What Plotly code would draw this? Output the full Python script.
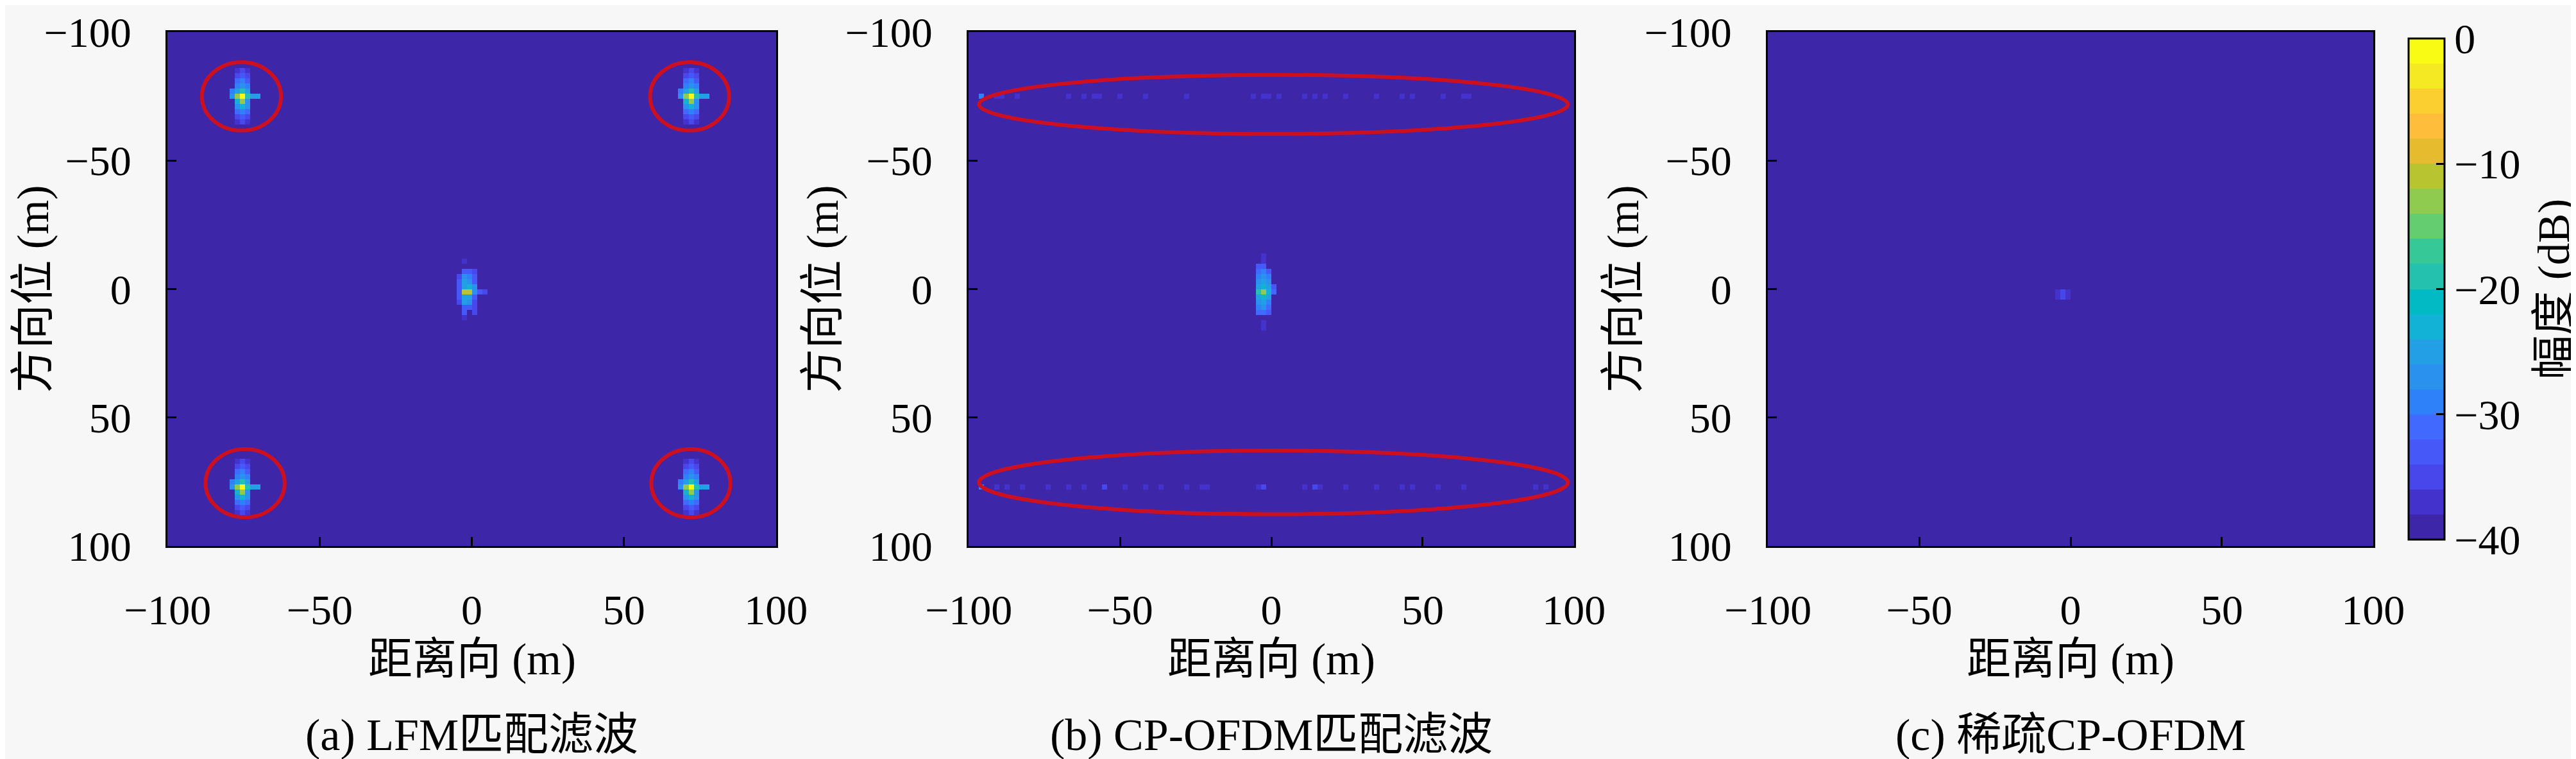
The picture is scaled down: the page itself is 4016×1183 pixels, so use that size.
import numpy as np
import plotly.graph_objects as go
from plotly.subplots import make_subplots

# ---------------- data ----------------
FLOOR_DB = -40                 # background level (dB)
N_RANGE, N_AZ = 118, 100       # image cells: range (x) by azimuth (y)

TICKS = [-100, -50, 0, 50, 100]
TICK_TEXT = ['\u2212100', '\u221250', '0', '50', '100']
CBAR_TICKS = [0, -10, -20, -30, -40]
CBAR_TEXT = ['0', '\u221210', '\u221220', '\u221230', '\u221240']

# (a) LFM matched filter: four corner targets + one centre target
lfm_corner_x = [-76, 72, -76, 72]
lfm_corner_y = [-74, -74, 76, 76]
lfm_corner_psf = [          # rows dy=-5..5, cols dx=-2..3
    [-40, -37, -36, -37, -40, -40],
    [-40, -35, -34, -36, -40, -40],
    [-40, -32, -30, -33, -40, -40],
    [-40, -30, -28, -30, -40, -40],
    [-30, -26, -20, -26, -40, -40],
    [-28, -14, 0, -20, -26, -26],
    [-40, -24, -14, -28, -40, -40],
    [-40, -28, -24, -28, -40, -40],
    [-40, -32, -30, -32, -40, -40],
    [-40, -35, -33, -35, -40, -40],
    [-40, -37, -36, -37, -40, -40],
]
lfm_center_x, lfm_center_y = -2, 1
lfm_center_psf = [          # rows dy=-6..5, cols dx=-1..4
    [-40, -37, -40, -40, -40, -40],
    [-40, -40, -40, -40, -40, -40],
    [-40, -34, -34, -36, -40, -40],
    [-35, -28, -30, -34, -40, -40],
    [-34, -26, -28, -34, -40, -40],
    [-34, -26, -24, -28, -40, -40],
    [-33, -12, -11, -28, -34, -36],
    [-34, -26, -26, -33, -40, -40],
    [-35, -26, -28, -36, -40, -40],
    [-40, -34, -34, -36, -40, -40],
    [-40, -34, -40, -36, -40, -40],
    [-40, -37, -40, -40, -40, -40],
]
lfm_ring_x = [-75.7, 71.6, -74.5, 72.0]
lfm_ring_y = [-75.0, -75.0, 75.6, 75.6]
lfm_ring_rx, lfm_ring_ry = 13.0, 13.3

# (b) CP-OFDM matched filter: centre target + sidelobe rows
ofdm_center_x, ofdm_center_y = -2, 1
ofdm_center_psf = [         # rows dy=-7..7, cols dx=-1..2
    [-40, -37, -40, -40],
    [-40, -37, -40, -40],
    [-34, -33, -40, -40],
    [-32, -30, -34, -40],
    [-30, -28, -30, -40],
    [-28, -26, -28, -40],
    [-26, -24, -26, -34],
    [-20, -14, -24, -32],
    [-26, -24, -26, -40],
    [-28, -26, -30, -40],
    [-30, -28, -32, -40],
    [-32, -32, -34, -40],
    [-40, -40, -40, -40],
    [-40, -37, -40, -40],
    [-40, -37, -40, -40],
]
ofdm_top_y = -74
ofdm_top_x = [-95.2, -91.1, -88.5, -84.4, -66.8, -61.4, -58.7, -56.0, -49.3,
              -41.2, -27.6, -6.0, -3.3, -0.6, 2.0, 11.5, 14.2, 17.0, 25.0,
              34.5, 44.0, 46.7, 56.0, 63.0, 64.5]
ofdm_top_db = [-30, -37, -37, -38, -37, -37, -37, -37, -37,
               -38, -38, -37, -37, -37, -37, -37, -37, -38, -38,
               -38, -37, -38, -38, -37, -38]
ofdm_bot_y = 76
ofdm_bot_x = [-95.2, -91.1, -87.1, -83.0, -73.6, -66.8, -61.4, -54.7, -47.9,
              -41.2, -37.1, -27.6, -23.6, -20.9, -4.7, -2.0, 11.5, 14.2, 15.6,
              25.0, 34.5, 42.6, 46.7, 54.8, 63.0, 87.2, 91.3]
ofdm_bot_db = [-30, -37, -37, -37, -37, -37, -37, -36, -37,
               -37, -38, -37, -37, -38, -37, -36, -37, -36, -37,
               -37, -37, -37, -38, -37, -38, -37, -37]
ofdm_ell_x = [0.7, 0.7]
ofdm_ell_y = [-71.9, 75.3]
ofdm_ell_rx = [97.3, 97.3]
ofdm_ell_ry = [11.5, 12.4]

# (c) sparse CP-OFDM: one tiny residual at the centre
sparse_x, sparse_y = -2, 0
sparse_psf = [              # rows dy=0..1, cols dx=-1..1
    [-38, -36, -37],
    [-37, -36, -38],
]

# parula colormap sampled into 20 bands (2 dB each)
PARULA20 = ['#3e26a8', '#4332cb', '#4747eb', '#4758f8', '#4269fe', '#2f81fa',
            '#2b91ef', '#23a0e5', '#12b1d6', '#02bac3', '#24c1ae', '#37c897',
            '#64cd6f', '#8fcb4e', '#b9c431', '#e6bb2d', '#febe3c', '#fccf30',
            '#f5e924', '#f9fb15']

FONT = "'Liberation Serif', 'Noto Sans CJK SC', serif"
W, H = 4016, 1183


def cell_grid():
    sx = 200.0 / N_RANGE
    sy = 200.0 / N_AZ
    xs = np.linspace(-100 + sx / 2, 100 - sx / 2, N_RANGE)
    ys = np.linspace(-100 + sy / 2, 100 - sy / 2, N_AZ)
    return xs, ys, sx, sy


X_CELLS, Y_CELLS, SX, SY = cell_grid()


def put(z, x, y, rows, dx0, dy0):
    """ stamp a block of dB values centred on the target at (x, y)"""
    ix = int(round((x - X_CELLS[0]) / SX))
    iy = int(round((y - Y_CELLS[0]) / SY))
    for r, row in enumerate(rows):
        for c, v in enumerate(row):
            j, i = iy + dy0 + r, ix + dx0 + c
            if 0 <= j < N_AZ and 0 <= i < N_RANGE:
                z[j, i] = max(z[j, i], v)


def image_a():
    z = np.full((N_AZ, N_RANGE), float(FLOOR_DB))
    for x, y in zip(lfm_corner_x, lfm_corner_y):
        put(z, x, y, lfm_corner_psf, -2, -5)
    put(z, lfm_center_x, lfm_center_y, lfm_center_psf, -1, -6)
    return z


def image_b():
    z = np.full((N_AZ, N_RANGE), float(FLOOR_DB))
    put(z, ofdm_center_x, ofdm_center_y, ofdm_center_psf, -1, -7)
    for x, v in zip(ofdm_top_x, ofdm_top_db):
        put(z, x, ofdm_top_y, [[v]], 0, 0)
    for x, v in zip(ofdm_bot_x, ofdm_bot_db):
        put(z, x, ofdm_bot_y, [[v]], 0, 0)
    return z


def image_c():
    z = np.full((N_AZ, N_RANGE), float(FLOOR_DB))
    put(z, sparse_x, sparse_y, sparse_psf, -1, 0)
    return z


def px_x(p):
    return p / W


def px_y(p):
    return 1 - p / H


colorscale = []
for k, c in enumerate(PARULA20):
    colorscale.append([k / 20, c])
    colorscale.append([(k + 1) / 20, c])

fig = make_subplots(rows=1, cols=3)
for col, z in enumerate([image_a(), image_b(), image_c()], start=1):
    fig.add_trace(go.Heatmap(x=X_CELLS, y=Y_CELLS, z=z, coloraxis='coloraxis',
                             zsmooth=False, hoverinfo='skip'), row=1, col=col)

# plot areas (pixels) measured on the reference
panels_px = [(253, 1202), (1502, 2446), (2748, 3692)]
top_px, bottom_px = 42, 843
axis_common = dict(showline=True, linewidth=3, linecolor='black', mirror=True,
                   ticks='inside', ticklen=14, tickwidth=3, tickcolor='black',
                   tickvals=TICKS, ticktext=TICK_TEXT, showgrid=False, zeroline=False,
                   ticklabeloverflow='allow',
                   tickfont=dict(family=FONT, size=66, color='black'))
for i, (l, r) in enumerate(panels_px):
    sfx = '' if i == 0 else str(i + 1)
    fig.layout['xaxis' + sfx].update(domain=[px_x(l), px_x(r)], range=[-100.05, 100.05],
                                     ticklabelstandoff=40, **axis_common)
    fig.layout['yaxis' + sfx].update(domain=[px_y(bottom_px), px_y(top_px)],
                                     range=[100.05, -100.05],
                                     ticklabelstandoff=40, **axis_common)

fig.update_layout(
    width=W, height=H,
    margin=dict(l=0, r=0, t=0, b=0, autoexpand=False),
    paper_bgcolor='#f7f7f7', plot_bgcolor='#3e26a8',
    font=dict(family=FONT, size=69, color='black'),
    showlegend=False,
    coloraxis=dict(
        colorscale=colorscale, cmin=-40, cmax=0,
        colorbar=dict(x=px_x(3737), xanchor='left', y=px_y(top_px), yanchor='top',
                      len=(bottom_px - top_px) / H, lenmode='fraction', thickness=56,
                      outlinewidth=3, outlinecolor='black',
                      ticks='inside', ticklen=14, tickwidth=3, tickcolor='black',
                      tickvals=CBAR_TICKS, ticktext=CBAR_TEXT,
                      ticklabeloverflow='allow',
                      tickfont=dict(family=FONT, size=66, color='black'))),
)

# red rings marking the targets / sidelobe rows
ring = dict(type='circle', line=dict(color='#cc1020', width=6), fillcolor='rgba(0,0,0,0)')
for x, y in zip(lfm_ring_x, lfm_ring_y):
    fig.add_shape(xref='x', yref='y', x0=x - lfm_ring_rx, x1=x + lfm_ring_rx,
                  y0=y - lfm_ring_ry, y1=y + lfm_ring_ry, **ring)
for x, y, rx, ry in zip(ofdm_ell_x, ofdm_ell_y, ofdm_ell_rx, ofdm_ell_ry):
    fig.add_shape(xref='x2', yref='y2', x0=x - rx, x1=x + rx, y0=y - ry, y1=y + ry, **ring)

# axis titles and captions
captions = ['(a) LFM匹配滤波', '(b) CP-OFDM匹配滤波', '(c) 稀疏CP-OFDM']
ytitle_px = [43, 1274, 2522]
mid_y = px_y((top_px + bottom_px) / 2)
for (l, r), cap, yx in zip(panels_px, captions, ytitle_px):
    cx = px_x((l + r) / 2)
    fig.add_annotation(text='距离向 (m)', x=cx, y=px_y(1020), xref='paper', yref='paper',
                       showarrow=False, xanchor='center', yanchor='middle')
    fig.add_annotation(text=cap, x=cx, y=px_y(1137), xref='paper', yref='paper',
                       showarrow=False, xanchor='center', yanchor='middle',
                       font=dict(size=70))
    fig.add_annotation(text='方向位 (m)', x=px_x(yx), y=mid_y, xref='paper', yref='paper',
                       textangle=-90, showarrow=False, xanchor='center', yanchor='middle')
fig.add_annotation(text='幅度 (dB)', x=px_x(3973), y=mid_y, xref='paper', yref='paper',
                   textangle=-90, showarrow=False, xanchor='center', yanchor='middle')

fig.write_html("out.html")
